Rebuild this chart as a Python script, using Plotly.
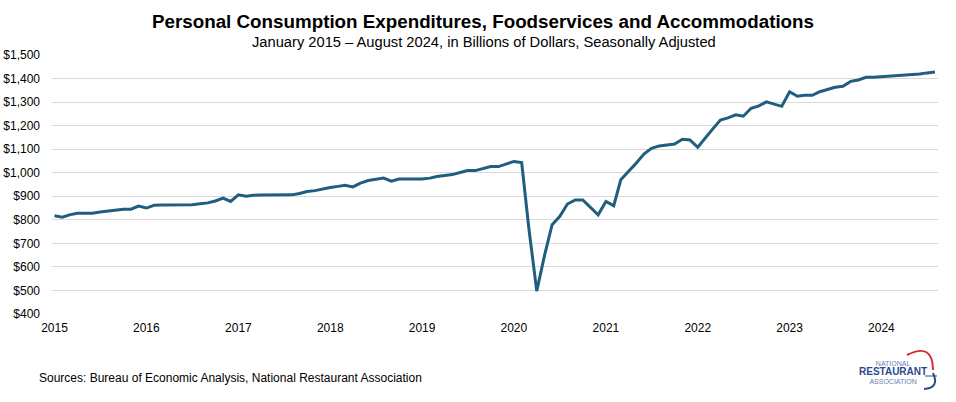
import plotly.graph_objects as go
import pandas as pd

months = pd.date_range("2015-01-01", "2024-08-01", freq="MS").strftime("%Y-%m-%d").tolist()

values = [
    # 2015
    817, 811, 821, 828, 828, 828, 833, 837, 841, 845, 845, 858,
    # 2016
    850, 862, 863, 863, 863, 863, 864, 868, 872, 880, 892, 878,
    # 2017
    906, 900, 904, 905, 906, 906, 906, 906, 912, 920, 924, 932,
    # 2018
    937, 942, 947, 940, 956, 967, 973, 977, 964, 973, 973, 973,
    # 2019
    973, 977, 984, 988, 992, 1001, 1009, 1009, 1018, 1026, 1026, 1038,
    # 2020
    1048, 1043, 760, 497, 645, 779, 814, 867, 884, 884, 850, 821,
    # 2021
    878, 860, 970, 1005, 1040, 1079, 1104, 1114, 1118, 1122, 1142, 1139,
    # 2022
    1108, 1146, 1185, 1224, 1233, 1246, 1240, 1274, 1284, 1301, 1291, 1282,
    # 2023
    1344, 1325, 1329, 1329, 1344, 1352, 1363, 1367, 1388, 1394, 1405, 1405,
    # 2024
    1407, 1410, 1411, 1415, 1415, 1419, 1424, 1428,
]

year_ticks = [f"{y}-01-01" for y in range(2015, 2025)]
year_labels = [str(y) for y in range(2015, 2025)]

W, H = 956, 402
L, R, T, B = 52, 18, 55, 88
PW, PH = W - L - R, H - T - B


def px(x):
    return (x - L) / PW


def py(y):
    return (H - B - y) / PH


fig = go.Figure()
fig.add_trace(go.Scatter(
    x=months, y=values, mode="lines",
    line=dict(color="#1F5E7E", width=3),
    hoverinfo="x+y",
))

font_main = "Liberation Sans, Arial, sans-serif"

fig.update_layout(
    width=W, height=H,
    margin=dict(l=L, r=R, t=T, b=B),
    paper_bgcolor="white", plot_bgcolor="white",
    showlegend=False,
    font=dict(family=font_main, size=12, color="black"),
    xaxis=dict(
        type="date",
        range=["2014-12-22", "2024-08-13"],
        tickvals=year_ticks, ticktext=year_labels,
        showgrid=False, zeroline=False,
        showline=False, ticks="",
        tickfont=dict(size=12, color="black"),
        ticklabelstandoff=5,
        automargin=False,
    ),
    yaxis=dict(
        range=[400, 1500], dtick=100, tick0=400,
        tickprefix="$", tickformat=",",
        showgrid=True, gridcolor="#D9D9D9", gridwidth=1,
        zeroline=False, showline=False, ticks="",
        tickfont=dict(size=12, color="black"),
        ticklabelstandoff=11,
        automargin=False,
    ),
)

logo_text = ("NATIONAL<br>"
             "<span style='font-size:10px;color:#2B4A8E'><b>RESTAURANT</b></span><br>"
             "ASSOCIATION")

annotations = [
    dict(text="<b>Personal Consumption Expenditures, Foodservices and Accommodations</b>",
         x=px(483), y=py(21), xref="paper", yref="paper", showarrow=False,
         font=dict(size=18.8, family=font_main, color="black"), xanchor="center", yanchor="middle"),
    dict(text="January 2015 \u2013 August 2024, in Billions of Dollars, Seasonally Adjusted",
         x=px(484), y=py(42), xref="paper", yref="paper", showarrow=False,
         font=dict(size=14.7, family=font_main, color="black"), xanchor="center", yanchor="middle"),
    dict(text="Sources: Bureau of Economic Analysis, National Restaurant Association",
         x=px(37), y=py(378), xref="paper", yref="paper", showarrow=False,
         font=dict(size=12, family=font_main, color="black"),
         xanchor="left", yanchor="middle"),
    dict(text=logo_text, x=px(893), y=py(372), xref="paper", yref="paper", showarrow=False,
         align="center",
         font=dict(size=7, family=font_main, color="#6A80B3"), xanchor="center", yanchor="middle"),
]
fig.update_layout(annotations=annotations)

# logo arcs
fig.add_shape(type="path", xref="paper", yref="paper",
              path=f"M {px(907)} {py(355)} Q {px(933)} {py(342)} {px(933)} {py(370)}",
              line=dict(color="#D7282F", width=2))
fig.add_shape(type="path", xref="paper", yref="paper",
              path=f"M {px(933)} {py(373)} Q {px(940)} {py(388)} {px(924)} {py(389)}",
              line=dict(color="#2B4A8E", width=2))
fig.add_shape(type="line", xref="paper", yref="paper",
              x0=px(925), y0=py(376), x1=px(937), y1=py(376),
              line=dict(color="#2B4A8E", width=1))

fig.write_html("out.html")
